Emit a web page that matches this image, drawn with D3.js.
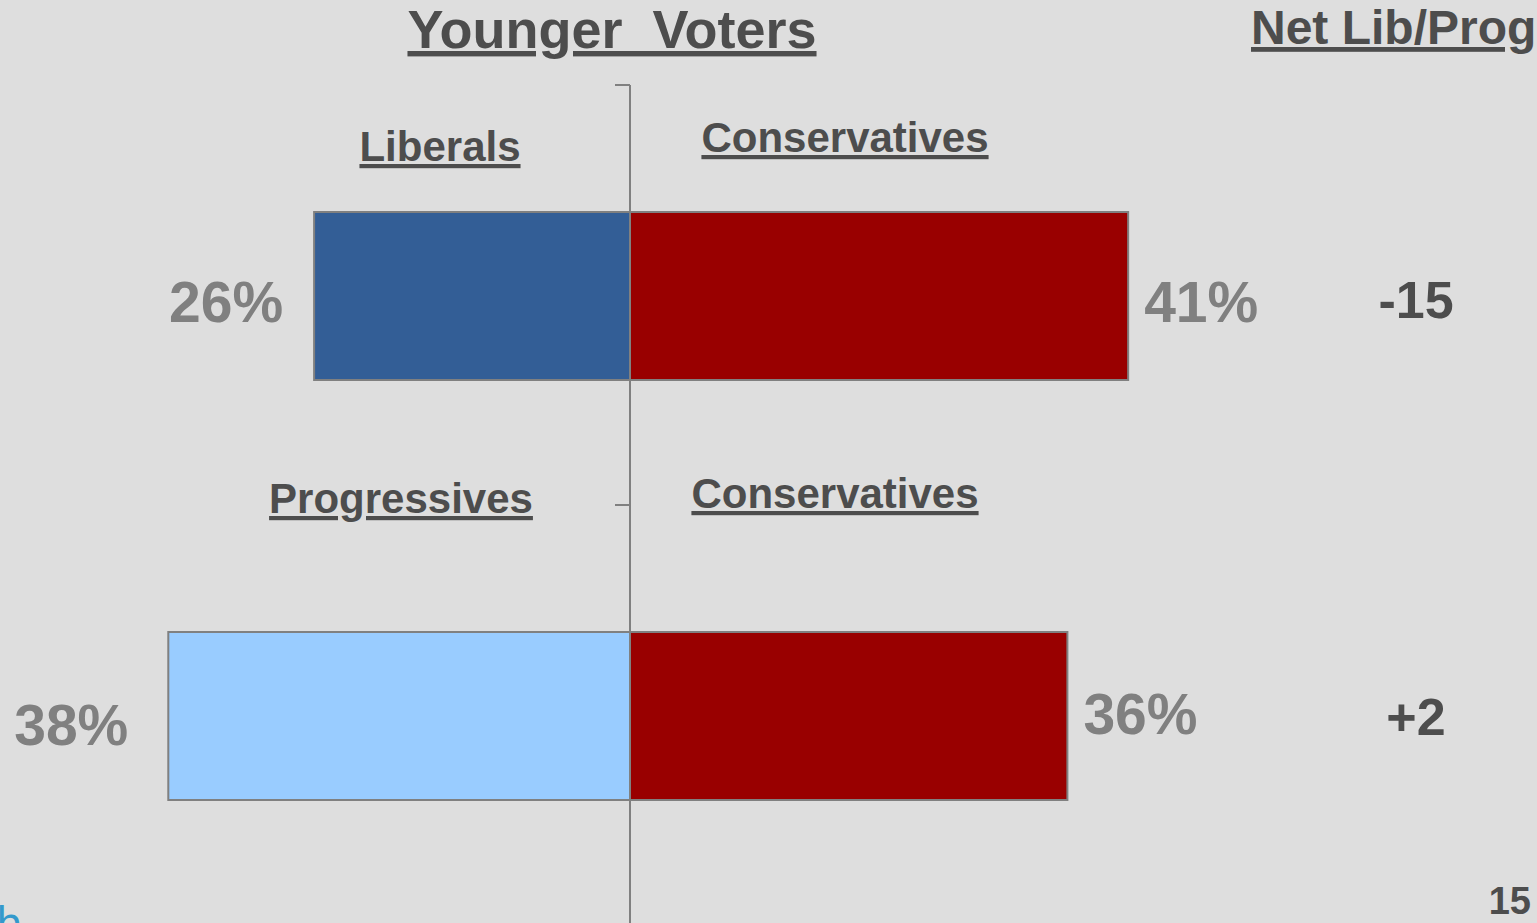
<!DOCTYPE html>
<html><head><meta charset="utf-8">
<script src="https://cdn.jsdelivr.net/npm/d3@7"></script>
<style>
html,body{margin:0;padding:0;background:#dedede;overflow:hidden;}
svg{display:block;font-family:"Liberation Sans",Arial,sans-serif;}
</style></head>
<body>
<script>
const categories = ["Liberals vs Conservatives", "Progressives vs Conservatives"];
const leftLabels = ["Liberals", "Progressives"];
const rightLabels = ["Conservatives", "Conservatives"];
const leftValues = [26, 38];
const rightValues = [41, 36];
const netLabels = ["-15", "+2"];
const leftColors = ["#335e96", "#99ccff"];
const rightColor = "#990000";

const W = 1537, H = 923;
const svg = d3.select("body").append("svg").attr("width", W).attr("height", H);
svg.append("rect").attr("width", W).attr("height", H).attr("fill", "#dedede");

const x = d3.scaleLinear().domain([-50, 50]).range([22.5, 1237.5]);
const y = d3.scaleBand().domain(categories).range([85, 925]).padding(0);
const barH = y.bandwidth() * 0.4;
const barY = c => y(c) + (y.bandwidth() - barH) / 2 + 1;

// axis
const axis = d3.axisLeft(y).tickSize(15).tickFormat("");
const gA = svg.append("g").attr("transform", `translate(${x(0)},0)`).call(axis);
gA.select(".domain").remove();
gA.selectAll(".tick").attr("transform", c => `translate(0,${y(c)})`);
gA.selectAll(".tick line").attr("stroke", "#808080").attr("stroke-width", 2);
svg.append("line").attr("x1", x(0)).attr("x2", x(0)).attr("y1", 85).attr("y2", H)
  .attr("stroke", "#808080").attr("stroke-width", 2);

// bars
svg.selectAll("rect.left").data(categories).join("rect").attr("class", "left")
  .attr("x", (c, i) => x(-leftValues[i])).attr("y", c => barY(c))
  .attr("width", (c, i) => x(0) - x(-leftValues[i])).attr("height", barH)
  .attr("fill", (c, i) => leftColors[i]).attr("stroke", "#808080").attr("stroke-width", 2);
svg.selectAll("rect.right").data(categories).join("rect").attr("class", "right")
  .attr("x", x(0)).attr("y", c => barY(c))
  .attr("width", (c, i) => x(rightValues[i]) - x(0)).attr("height", barH)
  .attr("fill", rightColor).attr("stroke", "#808080").attr("stroke-width", 2);
svg.append("line").attr("x1", x(0)).attr("x2", x(0)).attr("y1", 85).attr("y2", H)
  .attr("stroke", "#808080").attr("stroke-width", 1.5);

const dark = "#4d4d4d", grey = "#808080";
function txt(t, px, py, size, fill, anchor, underline) {
  return svg.append("text").attr("x", px).attr("y", py).attr("font-size", size)
    .attr("font-weight", "bold").attr("fill", fill).attr("text-anchor", anchor)
    .style("text-decoration", underline ? "underline" : null).text(t);
}

// titles
txt("Younger\u00a0\u00a0Voters", 612, 48, 54, dark, "middle", true);
txt("Net Lib/Prog", 1251, 44, 48, dark, "start", true);

// segment labels (offsets from band top)
const leftLabelX = [440, 401], leftLabelDy = [76, 8];
const rightLabelX = [845, 835], rightLabelDy = [67, 3];
categories.forEach((c, i) => {
  txt(leftLabels[i], leftLabelX[i], y(c) + leftLabelDy[i], 42, dark, "middle", true);
  txt(rightLabels[i], rightLabelX[i], y(c) + rightLabelDy[i], 42, dark, "middle", true);
});

// value labels
const lDy = [26, 29], rDy = [26, 18];
const lGap = [31, 40], rGap = [16, 16];
categories.forEach((c, i) => {
  const cy = barY(c) + barH / 2;
  txt(leftValues[i] + "%", x(-leftValues[i]) - lGap[i], cy + lDy[i], 57, grey, "end", false);
  txt(rightValues[i] + "%", x(rightValues[i]) + rGap[i], cy + rDy[i], 57, grey, "start", false);
});
const netDy = [22, 19];
categories.forEach((c, i) => {
  const cy = barY(c) + barH / 2;
  txt(netLabels[i], 1416, cy + netDy[i], 52, dark, "middle", false);
});

// page number and logo fragment
txt("15", 1531, 914, 38, dark, "end", false);
svg.append("text").attr("x", -4).attr("y", 938).attr("font-size", 42)
  .attr("fill", "#3399cc").attr("font-family", "DejaVu Sans").text("h");
</script>
</body></html>
